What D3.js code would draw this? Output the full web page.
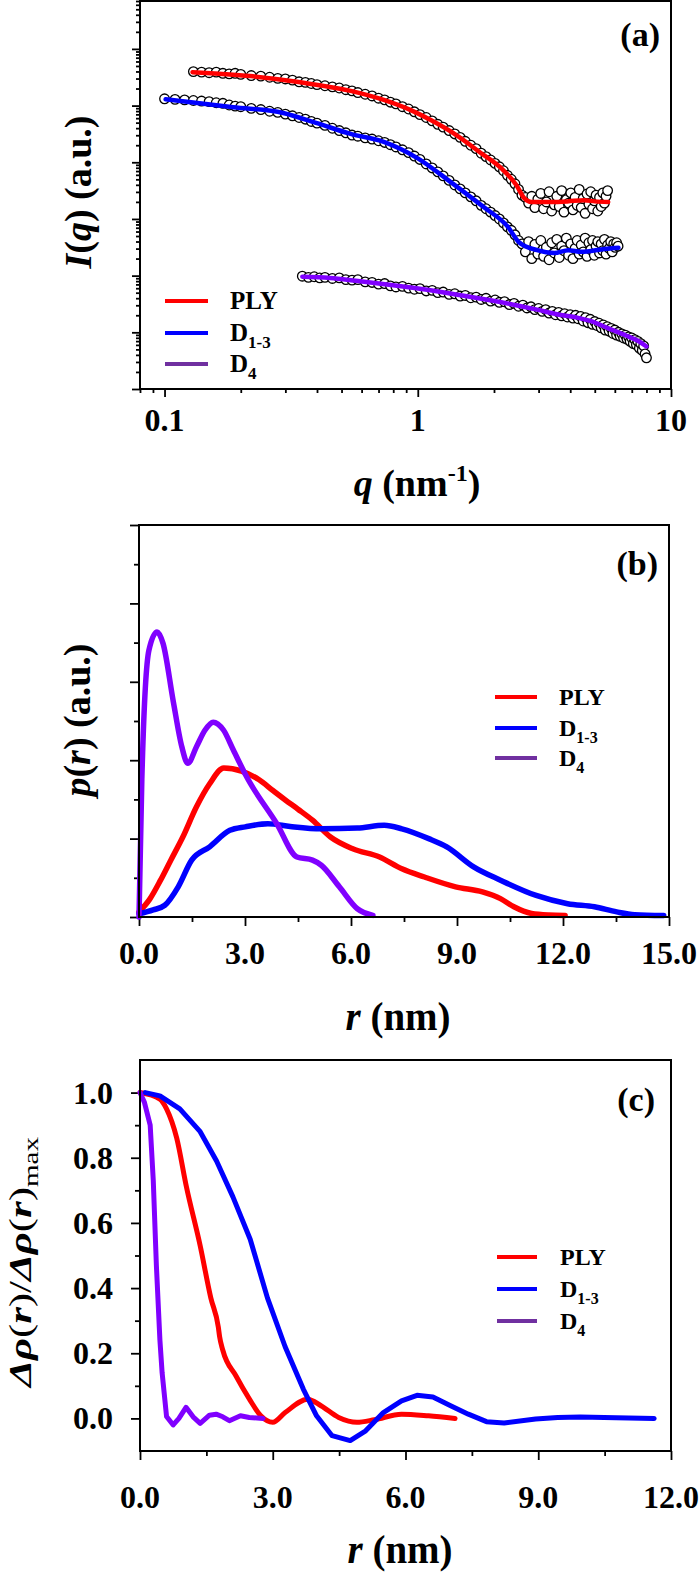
<!DOCTYPE html>
<html><head><meta charset="utf-8">
<script src="https://cdn.jsdelivr.net/npm/d3@7/dist/d3.min.js"></script>
<style>
html,body{margin:0;padding:0;background:#fff;}
svg{display:block;}
text{font-family:"Liberation Serif","Times New Roman",Times,serif;font-weight:bold;fill:#000;}
</style></head><body>
<svg id="fig" width="700" height="1576"></svg>
<script>
// ---------------- DATA ----------------
const legendMain = ["PLY", "D", "D"];
const legendSub  = ["", "1-3", "4"];
const lineColors = ["#ff0000", "#0000ff", "#8000ff"];
const legendColors = ["#ff0000", "#0000ff", "#7030a0"];

// Panel (a): SAXS data (q in nm^-1, log10 I)
const qData = [0.10,0.11,0.12,0.13,0.14,0.15,0.16,0.17,0.18,0.19,0.20,0.22,0.24,0.26,0.28,0.30,0.32,0.34,0.36,0.38,0.40,0.43,0.46,0.49,0.52,0.55,0.58,0.62,0.66,0.70,0.74,0.78,0.82,0.87,0.92,0.97,1.02,1.08,1.14,1.20,1.26,1.33,1.40,1.47,1.54,1.62,1.70,1.78,1.86,1.94,2.02,2.10,2.18,2.26,2.34,2.42,2.50,2.58,2.66,2.74,2.82,2.90,2.98,3.06,3.14,3.22,3.30,3.38,3.46,3.54,3.62,3.70,3.78,3.86,3.94,4.02,4.10,4.18,4.26,4.34,4.42,4.50,4.58,4.66,4.74,4.82,4.90,4.98,5.06,5.14,5.22,5.30,5.38,5.46,5.54,5.62,5.70,5.78,5.86,5.94,6.02,6.10,6.18];
const logI_PLY = [null,null,null,5.60,5.59,5.58,5.59,5.57,5.56,5.57,5.55,5.53,5.52,5.50,5.48,5.47,5.45,5.42,5.41,5.39,5.37,5.35,5.33,5.31,5.28,5.26,5.23,5.20,5.17,5.13,5.10,5.06,5.03,4.98,4.94,4.89,4.84,4.79,4.73,4.67,4.62,4.56,4.50,4.44,4.37,4.30,4.24,4.16,4.10,4.04,3.98,3.92,3.85,3.77,3.70,3.62,3.52,3.42,3.38,3.28,3.40,3.20,3.35,3.45,3.18,3.30,3.48,3.14,3.25,3.40,3.22,3.50,3.12,3.34,3.28,3.46,3.16,3.38,3.24,3.52,3.20,3.36,3.10,3.44,3.26,3.48,3.18,3.32,3.42,3.14,3.38,3.22,3.46,3.28,3.40,3.50,null,null,null,null,null,null,null];
const logI_D13 = [5.12,5.11,5.10,5.09,5.08,5.07,5.05,5.04,5.01,4.99,4.98,4.95,4.93,4.90,4.88,4.85,4.82,4.79,4.76,4.72,4.69,4.65,4.60,4.56,4.52,4.48,4.46,4.43,4.41,4.38,4.35,4.31,4.27,4.22,4.17,4.11,4.05,3.97,3.90,3.83,3.76,3.68,3.60,3.53,3.46,3.39,3.32,3.24,3.18,3.12,3.06,3.00,2.93,2.86,2.80,2.72,2.62,2.56,2.42,2.60,2.30,2.55,2.38,2.62,2.34,2.50,2.28,2.58,2.40,2.64,2.32,2.52,2.44,2.66,2.36,2.56,2.30,2.48,2.62,2.38,2.54,2.42,2.66,2.34,2.58,2.46,2.62,2.36,2.52,2.60,2.40,2.56,2.44,2.64,2.38,2.54,2.48,2.60,2.42,2.56,2.50,2.58,2.52];
const qD4 = [0.35,0.37,0.39,0.41,0.43,0.46,0.49,0.52,0.55,0.58,0.62,0.66,0.70,0.74,0.78,0.82,0.87,0.92,0.97,1.02,1.08,1.14,1.20,1.26,1.33,1.40,1.47,1.54,1.62,1.70,1.78,1.86,1.94,2.02,2.10,2.20,2.30,2.40,2.50,2.60,2.70,2.80,2.90,3.00,3.10,3.20,3.30,3.40,3.50,3.60,3.70,3.80,3.90,4.00,4.10,4.20,4.30,4.40,4.50,4.60,4.70,4.80,4.90,5.00,5.10,5.20,5.30,5.40,5.50,5.60,5.70,5.80,5.90,6.00,6.10,6.20,6.30,6.40,6.50,6.60,6.70,6.80,6.90,7.00,7.10,7.20,7.30,7.40,7.50,7.60,7.70,7.80,7.90,8.00];
const logI_D4 = [1.99,1.97,1.98,1.96,1.97,1.95,1.96,1.93,1.92,1.93,1.89,1.88,1.85,1.86,1.82,1.80,1.81,1.78,1.76,1.77,1.73,1.74,1.70,1.71,1.67,1.68,1.64,1.65,1.61,1.62,1.58,1.60,1.55,1.57,1.53,1.54,1.49,1.51,1.46,1.48,1.43,1.45,1.40,1.42,1.37,1.40,1.34,1.37,1.31,1.35,1.29,1.33,1.27,1.31,1.25,1.30,1.24,1.28,1.20,1.26,1.17,1.23,1.14,1.19,1.12,1.16,1.08,1.13,1.04,1.10,1.02,1.07,0.98,1.04,0.95,1.00,0.93,0.97,0.90,0.95,0.88,0.92,0.84,0.90,0.80,0.87,0.78,0.84,0.72,0.80,0.68,0.76,0.62,0.55];

// Panel (a): fits
const fitQ_PLY = [0.129,0.218,0.344,0.543,0.734,0.938,1.13,1.42,1.78,2.13,2.45,2.63,2.81,3.36,3.90,4.54,5.00,5.65];
const fitL_PLY = [5.59,5.52,5.41,5.26,5.10,4.92,4.74,4.48,4.16,3.90,3.60,3.37,3.30,3.30,3.31,3.33,3.31,3.30];
const fitQ_D13 = [0.101,0.187,0.294,0.40,0.543,0.734,1.00,1.35,1.82,2.27,2.51,2.96,3.46,3.93,4.42,5.47,6.20];
const fitL_D13 = [5.11,4.97,4.87,4.69,4.50,4.36,4.07,3.65,3.21,2.86,2.59,2.45,2.40,2.45,2.42,2.47,2.49];
const fitQ_D4 = [0.35,0.45,0.57,0.80,1.09,1.50,1.96,2.50,2.96,3.62,4.26,4.80,5.66,6.67,7.40,8.00];
const fitL_D4 = [1.98,1.96,1.91,1.83,1.75,1.65,1.56,1.47,1.40,1.31,1.26,1.20,1.07,0.94,0.85,0.75];

// Panel (b): p(r)
const prR_PLY = [0,0.3,0.61,0.9,1.24,1.62,2.0,2.4,2.9,3.4,3.8,4.15,4.5,4.91,5.42,6.05,6.81,7.44,8.08,8.96,9.72,10.23,10.61,11.11,11.6,12.06];
const prV_PLY = [0.13,0.45,0.94,1.45,2.04,2.8,3.4,3.8,3.72,3.5,3.22,2.98,2.75,2.47,2.04,1.74,1.53,1.23,1.02,0.77,0.64,0.47,0.26,0.09,0.05,0.04];
const prR_D13 = [0,0.4,0.73,1.11,1.49,2.0,2.57,3.01,3.65,4.28,5.16,6.18,6.94,7.44,8.2,8.71,9.47,10.23,11.24,12.13,12.89,13.52,14.03,14.85];
const prV_D13 = [0.08,0.18,0.3,0.77,1.45,1.79,2.21,2.30,2.38,2.31,2.25,2.27,2.34,2.25,2.0,1.79,1.28,0.94,0.55,0.34,0.26,0.13,0.06,0.04];
const prR_D4 = [0,0.08,0.28,0.51,0.68,0.97,1.21,1.38,1.63,1.87,2.1,2.39,2.67,3.05,3.9,4.47,4.91,5.16,5.67,6.18,6.62];
const prV_D4 = [0,3.5,6.8,7.27,6.98,5.5,4.35,3.92,4.35,4.77,4.97,4.77,4.26,3.57,2.38,1.53,1.45,1.32,0.77,0.21,0.04];

// Panel (c): contrast profiles
const drR_PLY = [0,0.45,0.6,0.83,1.05,1.36,1.6,1.77,1.80,1.87,2.17,2.47,2.73,3.0,3.28,3.79,4.09,4.49,4.9,5.3,5.91,6.52,7.12];
const drV_PLY = [1.0,0.98,0.95,0.86,0.71,0.53,0.37,0.28,0.25,0.21,0.13,0.06,0.008,-0.012,0.018,0.059,0.039,0.003,-0.012,-0.004,0.013,0.008,0];
const drR_D13 = [0.12,0.45,0.9,1.36,1.73,2.1,2.49,2.88,3.28,3.69,3.99,4.34,4.75,5.1,5.5,5.91,6.26,6.62,7.02,7.42,7.83,8.23,8.94,9.44,9.95,10.76,11.62];
const drV_D13 = [1.0,0.99,0.95,0.88,0.79,0.68,0.55,0.37,0.22,0.09,0.008,-0.053,-0.068,-0.038,0.018,0.054,0.071,0.066,0.039,0.013,-0.01,-0.014,-0.002,0.003,0.004,0.002,0];
const drR_D4 = [0,0.1,0.23,0.30,0.37,0.45,0.5,0.6,0.75,0.88,1.04,1.2,1.36,1.57,1.72,1.87,2.02,2.27,2.47,2.78];
const drV_D4 = [1.0,0.97,0.90,0.73,0.47,0.24,0.14,0.006,-0.02,0.0,0.034,0.005,-0.015,0.01,0.013,0.005,-0.007,0.008,0.003,0];

// Tick labels
const xTicksA = [0.1, 1, 10];
const xTickLabelsA = ["0.1", "1", "10"];
const xTicksB = [0, 3, 6, 9, 12, 15];
const xTickLabelsB = ["0.0", "3.0", "6.0", "9.0", "12.0", "15.0"];
const xMinorB = [1.5, 4.5, 7.5, 10.5, 13.5];
const yTicksB = [0, 2, 4, 6, 8, 10];
const yMinorB = [1, 3, 5, 7, 9];
const xTicksC = [0, 3, 6, 9, 12];
const xTickLabelsC = ["0.0", "3.0", "6.0", "9.0", "12.0"];
const xMinorC = [1.5, 4.5, 7.5, 10.5];
const yTicksC = [0, 0.2, 0.4, 0.6, 0.8, 1.0];
const yTickLabelsC = ["0.0", "0.2", "0.4", "0.6", "0.8", "1.0"];
const yMinorC = [0.1, 0.3, 0.5, 0.7, 0.9];

// ---------------- DRAW ----------------
const svg = d3.select("#fig");
const zip = (a, b) => a.map((v, i) => [v, b[i]]);

function axisTicks(g, axisFn, scale, vals, size, transform) {
  g.append("g").attr("transform", transform)
    .call(axisFn(scale).tickValues(vals).tickSize(size).tickSizeOuter(0).tickFormat(""))
    .call(s => s.select(".domain").remove())
    .call(s => s.selectAll(".tick line").attr("stroke", "#000").attr("stroke-width", 1.8));
}
function frame(g, x0, y0, x1, y1) {
  g.append("rect").attr("x", x0).attr("y", y0).attr("width", x1 - x0).attr("height", y1 - y0)
    .attr("fill", "none").attr("stroke", "#000").attr("stroke-width", 2);
}
function legend(g, x0, x1, ys, tx, size) {
  ys.forEach((y, i) => {
    g.append("line").attr("x1", x0).attr("x2", x1).attr("y1", y).attr("y2", y)
      .attr("stroke", legendColors[i]).attr("stroke-width", 4);
    const t = g.append("text").attr("x", tx).attr("y", y + 8).style("font-size", size + "px");
    t.append("tspan").text(legendMain[i]);
    if (legendSub[i]) t.append("tspan").attr("dy", 7).style("font-size", Math.round(size * 0.68) + "px").text(legendSub[i]);
  });
}

// ===== Panel (a) =====
const A = {x0: 140, x1: 671, y0: 1, y1: 389};
const xA = d3.scaleLog().domain([0.08, 10]).range([A.x0, A.x1]);
const yA = d3.scaleLog().domain([1, 7e6]).range([A.y1, A.y0]);
const gA = svg.append("g");
const xAllA = xA.ticks();
const yAllA = yA.ticks();
const isDecade = v => Math.abs(Math.log10(v) - Math.round(Math.log10(v))) < 1e-9;
axisTicks(gA, d3.axisBottom, xA, xAllA.filter(v => !isDecade(v)), 4, `translate(0,${A.y1})`);
axisTicks(gA, d3.axisBottom, xA, xTicksA, 8, `translate(0,${A.y1})`);
axisTicks(gA, d3.axisLeft, yA, yAllA.filter(v => !isDecade(v)), 4, `translate(${A.x0},0)`);
axisTicks(gA, d3.axisLeft, yA, yAllA.filter(isDecade), 8, `translate(${A.x0},0)`);
xTicksA.forEach((v, i) => gA.append("text").attr("x", xA(v)).attr("y", 431).attr("text-anchor", "middle").style("font-size", "32px").text(xTickLabelsA[i]));

const circA = [
  zip(qData, logI_PLY).filter(d => d[1] !== null),
  zip(qData, logI_D13),
  zip(qD4, logI_D4)
];
circA.forEach(pts => {
  gA.append("g").selectAll("circle").data(pts).join("circle")
    .attr("cx", d => xA(d[0])).attr("cy", d => yA(Math.pow(10, d[1]))).attr("r", 4.8)
    .attr("fill", "#fff").attr("stroke", "#000").attr("stroke-width", 1.3);
});
const lineA = d3.line().x(d => xA(d[0])).y(d => yA(Math.pow(10, d[1]))).curve(d3.curveMonotoneX);
[zip(fitQ_PLY, fitL_PLY), zip(fitQ_D13, fitL_D13), zip(fitQ_D4, fitL_D4)].forEach((pts, i) => {
  gA.append("path").attr("d", lineA(pts)).attr("fill", "none").attr("stroke", lineColors[i]).attr("stroke-width", 4.5).attr("stroke-linecap", "round");
});
frame(gA, A.x0, A.y0, A.x1, A.y1);
legend(gA, 165, 208, [301, 333, 364], 230, 25);
gA.append("text").attr("x", 660).attr("y", 46).attr("text-anchor", "end").style("font-size", "34px").text("(a)");
{
  const t = gA.append("text").attr("x", 417).attr("y", 496).attr("text-anchor", "middle").style("font-size", "38px");
  t.append("tspan").style("font-style", "italic").text("q");
  t.append("tspan").text(" (nm");
  t.append("tspan").attr("dy", -15).style("font-size", "24px").text("-1");
  t.append("tspan").attr("dy", 15).text(")");
  const ty = gA.append("text").attr("transform", "translate(91,192) rotate(-90)").attr("text-anchor", "middle").style("font-size", "38px");
  ty.append("tspan").style("font-style", "italic").text("I");
  ty.append("tspan").text("(");
  ty.append("tspan").style("font-style", "italic").text("q");
  ty.append("tspan").text(") (a.u.)");
}

// ===== Panel (b) =====
const B = {x0: 139, x1: 669, y0: 525, y1: 917};
const xB = d3.scaleLinear().domain([0, 15]).range([B.x0, B.x1]);
const yB = d3.scaleLinear().domain([0, 10]).range([B.y1, B.y0]);
const gB = svg.append("g");
axisTicks(gB, d3.axisBottom, xB, xMinorB, 5, `translate(0,${B.y1})`);
axisTicks(gB, d3.axisBottom, xB, xTicksB, 9, `translate(0,${B.y1})`);
axisTicks(gB, d3.axisLeft, yB, yMinorB, 5, `translate(${B.x0},0)`);
axisTicks(gB, d3.axisLeft, yB, yTicksB, 9, `translate(${B.x0},0)`);
xTicksB.forEach((v, i) => gB.append("text").attr("x", xB(v)).attr("y", 964).attr("text-anchor", "middle").style("font-size", "32px").text(xTickLabelsB[i]));
const lineB = d3.line().x(d => xB(d[0])).y(d => yB(d[1])).curve(d3.curveMonotoneX);
[zip(prR_PLY, prV_PLY), zip(prR_D13, prV_D13), zip(prR_D4, prV_D4)].forEach((pts, i) => {
  gB.append("path").attr("d", lineB(pts)).attr("fill", "none").attr("stroke", lineColors[i]).attr("stroke-width", 5.5).attr("stroke-linejoin", "round").attr("stroke-linecap", "round");
});
frame(gB, B.x0, B.y0, B.x1, B.y1);
legend(gB, 495, 537, [697, 728, 758], 559, 24);
gB.append("text").attr("x", 658).attr("y", 575).attr("text-anchor", "end").style("font-size", "34px").text("(b)");
{
  const t = gB.append("text").attr("x", 398).attr("y", 1030).attr("text-anchor", "middle").style("font-size", "39px");
  t.append("tspan").style("font-style", "italic").text("r");
  t.append("tspan").text(" (nm)");
  const ty = gB.append("text").attr("transform", "translate(90,720) rotate(-90)").attr("text-anchor", "middle").style("font-size", "38px");
  ty.append("tspan").style("font-style", "italic").text("p");
  ty.append("tspan").text("(");
  ty.append("tspan").style("font-style", "italic").text("r");
  ty.append("tspan").text(") (a.u.)");
}

// ===== Panel (c) =====
const C = {x0: 140, x1: 671, y0: 1060, y1: 1451};
const xC = d3.scaleLinear().domain([0, 12]).range([C.x0, C.x1]);
const yC = d3.scaleLinear().domain([-0.1, 1.1]).range([C.y1, C.y0]);
const gC = svg.append("g");
axisTicks(gC, d3.axisBottom, xC, xMinorC, 5, `translate(0,${C.y1})`);
axisTicks(gC, d3.axisBottom, xC, xTicksC, 9, `translate(0,${C.y1})`);
axisTicks(gC, d3.axisLeft, yC, yMinorC, 5, `translate(${C.x0},0)`);
axisTicks(gC, d3.axisLeft, yC, yTicksC, 9, `translate(${C.x0},0)`);
xTicksC.forEach((v, i) => gC.append("text").attr("x", xC(v)).attr("y", 1508).attr("text-anchor", "middle").style("font-size", "32px").text(xTickLabelsC[i]));
yTicksC.forEach((v, i) => gC.append("text").attr("x", 113).attr("y", yC(v) + 11).attr("text-anchor", "end").style("font-size", "32px").text(yTickLabelsC[i]));
const lineCs = d3.line().x(d => xC(d[0])).y(d => yC(d[1])).curve(d3.curveMonotoneX);
const lineCl = d3.line().x(d => xC(d[0])).y(d => yC(d[1]));
[[zip(drR_PLY, drV_PLY), lineCs], [zip(drR_D13, drV_D13), lineCl], [zip(drR_D4, drV_D4), lineCl]].forEach(([pts, gen], i) => {
  gC.append("path").attr("d", gen(pts)).attr("fill", "none").attr("stroke", lineColors[i]).attr("stroke-width", 5).attr("stroke-linejoin", "round").attr("stroke-linecap", "round");
});
frame(gC, C.x0, C.y0, C.x1, C.y1);
legend(gC, 497, 537, [1257, 1289, 1321], 560, 24);
gC.append("text").attr("x", 655).attr("y", 1111).attr("text-anchor", "end").style("font-size", "34px").text("(c)");
{
  const t = gC.append("text").attr("x", 400).attr("y", 1563).attr("text-anchor", "middle").style("font-size", "39px");
  t.append("tspan").style("font-style", "italic").text("r");
  t.append("tspan").text(" (nm)");
  const ty = gC.append("text").attr("transform", "translate(31,1262) rotate(-90) scale(1.38,1)").attr("text-anchor", "middle").style("font-size", "31px");
  ty.append("tspan").style("font-style", "italic").text("Δρ");
  ty.append("tspan").style("font-weight", "normal").text("(");
  ty.append("tspan").style("font-style", "italic").text("r");
  ty.append("tspan").style("font-weight", "normal").text(")/");
  ty.append("tspan").style("font-style", "italic").text("Δρ");
  ty.append("tspan").style("font-weight", "normal").text("(");
  ty.append("tspan").style("font-style", "italic").text("r");
  ty.append("tspan").style("font-weight", "normal").text(")");
  ty.append("tspan").attr("dy", 7).style("font-weight", "normal").style("font-size", "21px").text("max");
}
</script>
</body></html>
